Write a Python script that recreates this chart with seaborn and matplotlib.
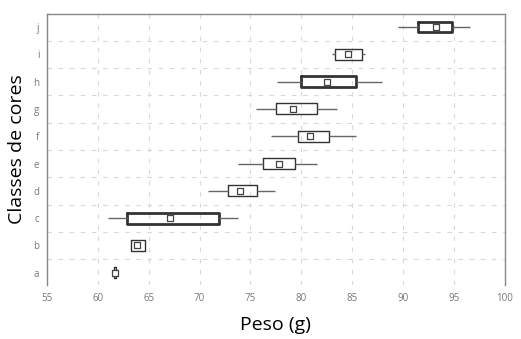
import numpy as np
import pandas as pd
import matplotlib
matplotlib.use('Agg')
import matplotlib.pyplot as plt
import seaborn as sns

# colour classes, top to bottom as drawn
classes = ['j', 'i', 'h', 'g', 'f', 'e', 'd', 'c', 'b', 'a']

# five-number summaries per class (whisker low, q1, median, q3, whisker high), weight in g
j_vals = [89.5, 91.5, 93.2, 94.8, 96.6]
i_vals = [83.0, 83.3, 84.6, 86.0, 86.3]
h_vals = [77.6, 80.0, 82.5, 85.4, 87.9]
g_vals = [75.5, 77.5, 79.2, 81.5, 83.5]
f_vals = [77.0, 79.7, 80.9, 82.7, 85.4]
e_vals = [73.8, 76.2, 77.8, 79.4, 81.5]
d_vals = [70.8, 72.8, 74.0, 75.6, 77.4]
c_vals = [61.0, 62.9, 67.1, 71.9, 73.8]
b_vals = [63.3, 63.3, 63.9, 64.6, 64.6]
a_vals = [61.6, 61.6, 61.7, 61.8, 61.8]

thick_classes = ['j', 'h', 'c']

all_vals = [j_vals, i_vals, h_vals, g_vals, f_vals, e_vals, d_vals, c_vals, b_vals, a_vals]
rows = []
for cls, vals in zip(classes, all_vals):
    for v in vals:
        rows.append({'classe': cls, 'peso': v})
df = pd.DataFrame(rows)
medians = pd.DataFrame({'classe': classes, 'peso': [v[2] for v in all_vals]})

sns.set_style('white')
plt.rcParams['font.family'] = ['Open Sans', 'DejaVu Sans']

fig = plt.figure(figsize=(5.21, 3.39), dpi=100)
ax = fig.add_axes([0.090, 0.159, 0.879, 0.800])

box_kw = dict(x='peso', y='classe', order=classes, width=0.4, whis=(0, 100),
              fill=False, color='#333333', showfliers=False,
              medianprops=dict(linewidth=0),
              whiskerprops=dict(linewidth=1.0, color='#666666'),
              capprops=dict(linewidth=0))
sns.boxplot(data=df[~df['classe'].isin(thick_classes)], linewidth=1.0, ax=ax, **box_kw)
sns.boxplot(data=df[df['classe'].isin(thick_classes)], linewidth=2.0, ax=ax, **box_kw)

sns.scatterplot(data=medians, x='peso', y='classe', marker='s', s=14,
                facecolor='white', edgecolor='#444444', linewidth=0.9, ax=ax, zorder=5)

ax.set_xlim(55, 100)
ax.set_ylim(9.45, -0.48)
ax.set_xticks(np.arange(55, 101, 5))
ax.set_yticks(range(len(classes)))
ax.set_yticklabels(classes)
ax.set_yticks(np.arange(0.5, len(classes) - 1, 1), minor=True)

ax.grid(False)
ax.xaxis.grid(True, which='major', color='#d8d8d8', linestyle=(0, (4, 6)), linewidth=0.8)
ax.yaxis.grid(True, which='minor', color='#d8d8d8', linestyle=(0, (4, 6)), linewidth=0.8)
ax.set_axisbelow(True)

ax.tick_params(axis='both', which='major', labelsize=7, colors='#777777', length=2)
ax.tick_params(axis='y', which='minor', length=0)
for side in ['left', 'right', 'top']:
    ax.spines[side].set_color('#888888')
    ax.spines[side].set_linewidth(1.0)
ax.spines['bottom'].set_visible(False)

ax.set_xlabel('Peso (g)', fontsize=14, color='black', labelpad=9)
ax.set_ylabel('Classes de cores', fontsize=14, color='black', labelpad=5)

fig.savefig('out.png', dpi=100)
